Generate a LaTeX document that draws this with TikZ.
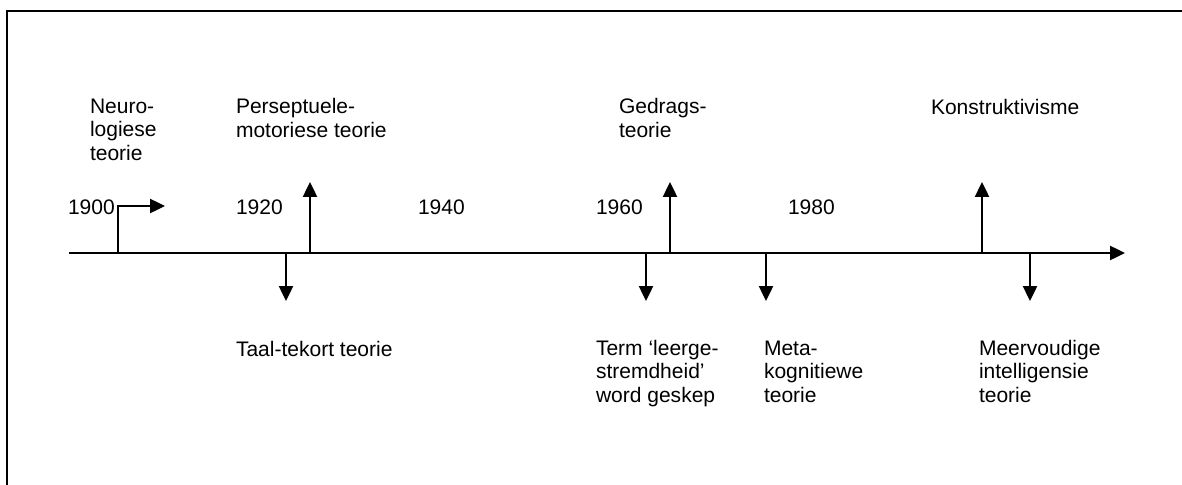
\documentclass[tikz,border=0pt]{standalone}
\usepackage{fontspec}
\setmainfont{Liberation Sans}
\usetikzlibrary{arrows.meta,positioning}

\begin{document}
\begin{tikzpicture}[x=0.571pt,y=-0.571pt,line width=1.15pt,
    tip/.style={-{Triangle[length=8.5pt,width=8pt]}},
    lbl/.style={anchor=base west,inner sep=0pt,align=left,font=\fontsize{12}{13.2}\selectfont}]
  \useasboundingbox (0,0) rectangle (1182,485);
  % frame (only the left and top edges fall inside the page)
  \draw (7,490) |- (1190,11);
  % time axis
  \coordinate (axstart) at (69,253);
  \coordinate (axend) at (1125,253);
  \draw[tip] (axstart) -- (axend);
  % years
  \foreach \v/\x in {1900/67,1920/235,1940/417,1960/595,1980/787}{
    \node[lbl] (y\v) at (\x,214) {\v};}
  % start arrow
  \coordinate (s0) at (118,253);
  \coordinate (s1) at (165,206);
  \draw[tip] (s0) |- (s1);
  % arrows up / down
  \foreach \n/\x in {pm/310,gd/670,ko/982}{
    \coordinate (a\n) at (\x,253);
    \coordinate (t\n) at (\x,182);
    \draw[tip] (a\n) -- (t\n);}
  \foreach \n/\x in {tt/286,lg/646,mk/766,mi/1030}{
    \coordinate (a\n) at (\x,253);
    \coordinate (t\n) at (\x,301);
    \draw[tip] (a\n) -- (t\n);}
  % labels above (placed at the baseline of the last line)
  \node[lbl] (neuro) at (89,160) {Neuro-\\logiese\\teorie};
  \node[lbl] (perseptueel) at (235,137) {Perseptuele-\\motoriese teorie};
  \node[lbl] (gedrag) at (618,137) {Gedrags-\\teorie};
  \node[lbl] (konstruk) at (930,114) {Konstruktivisme};
  % labels below
  \node[lbl] (taal) at (235,356) {Taal-tekort teorie};
  \node[lbl] (term) at (595,402) {Term ‘leerge-\\stremdheid’\\word geskep};
  \node[lbl] (meta) at (763,402) {Meta-\\kognitiewe\\teorie};
  \node[lbl] (meervoud) at (978,402) {Meervoudige\\intelligensie\\teorie};
\end{tikzpicture}
\end{document}
